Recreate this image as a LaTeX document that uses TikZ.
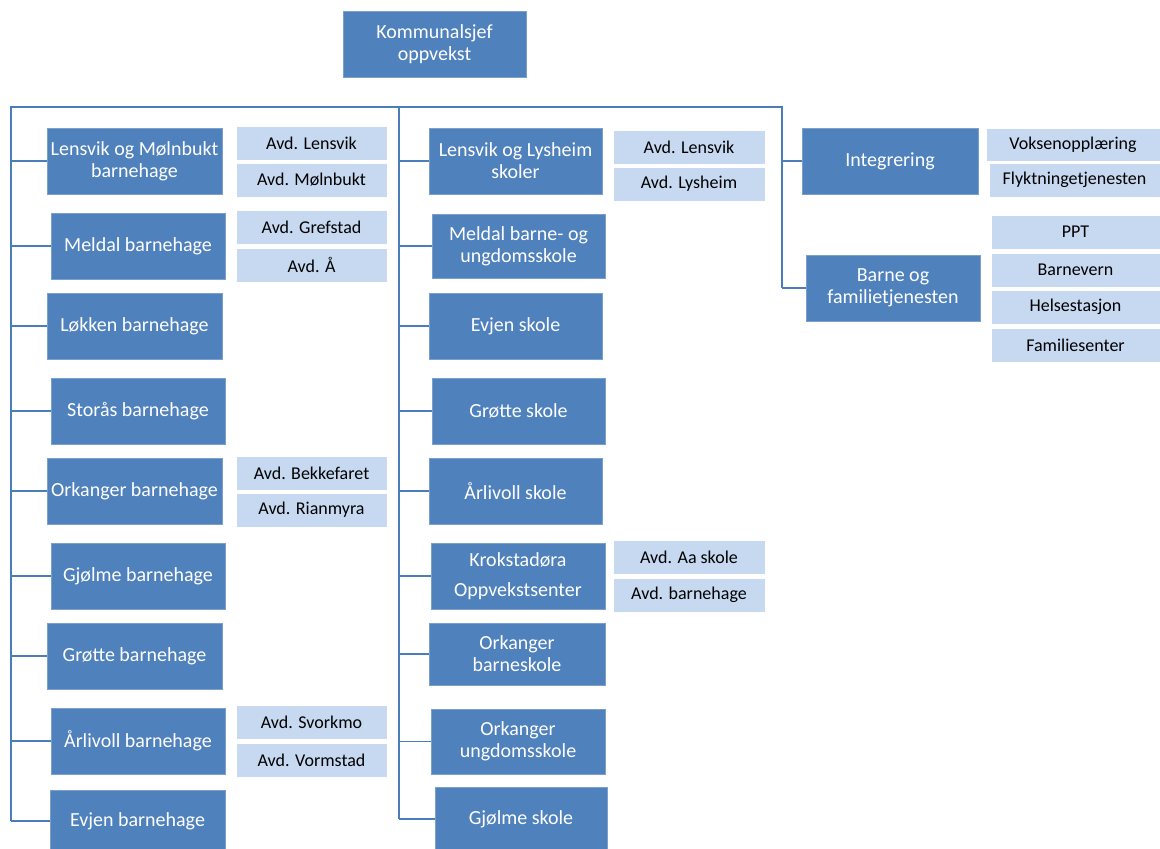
\documentclass[tikz,border=0pt]{standalone}
\usepackage{fontspec}
\setmainfont{Carlito}
\definecolor{dkb}{HTML}{4F81BD}
\definecolor{ltb}{HTML}{C6D9F1}
\definecolor{lnc}{HTML}{4A7EBB}
\newcommand{\dkfont}{\fontsize{20}{22}\selectfont}
\newcommand{\ltfont}{\fontsize{18}{20}\selectfont}
\tikzset{
  dk/.style={fill=dkb, draw=dkb!75!white, line width=0.7pt, text=white, align=center, font=\dkfont, inner sep=1pt},
  lt/.style={fill=ltb, draw=white, line width=0.7pt, text=black, align=center, font=\ltfont, inner sep=1pt},
  ln/.style={draw=lnc, line width=1.1pt}
}
\begin{document}
\begin{tikzpicture}[x=1pt,y=-1pt]
\useasboundingbox (0,0) rectangle (1160,849);
\clip (0,0) rectangle (1160,849);
% top
\node[dk, minimum width=183pt, minimum height=66pt] (top) at (434.5,44) {Kommunalsjef\\oppvekst};
% left column
\node[dk, minimum width=175pt, minimum height=66pt] (lb1) at (134.5,161) {Lensvik og Mølnbukt\\barnehage};
\node[dk, minimum width=174pt, minimum height=66pt] (lb2) at (138,246) {Meldal barnehage};
\node[dk, minimum width=175pt, minimum height=66pt] (lb3) at (134.5,326) {Løkken barnehage};
\node[dk, minimum width=174pt, minimum height=66pt] (lb4) at (138,411) {Storås barnehage};
\node[dk, minimum width=175pt, minimum height=66pt] (lb5) at (134.5,491) {Orkanger barnehage};
\node[dk, minimum width=174pt, minimum height=66pt] (lb6) at (138,576) {Gjølme barnehage};
\node[dk, minimum width=175pt, minimum height=66pt] (lb7) at (134.5,656) {Grøtte barnehage};
\node[dk, minimum width=174pt, minimum height=66pt] (lb8) at (138,741) {Årlivoll barnehage};
\node[dk, minimum width=175pt, minimum height=62pt] (lb9) at (137.5,821) {Evjen barnehage};
% left sub units
\node[lt, minimum width=151pt, minimum height=34pt] (la1) at (311.5,143) {Avd. Lensvik};
\node[lt, minimum width=151pt, minimum height=34pt] (la2) at (311.5,180) {Avd. Mølnbukt};
\node[lt, minimum width=151pt, minimum height=34pt] (la3) at (311.5,227) {Avd. Grefstad};
\node[lt, minimum width=151pt, minimum height=34pt] (la4) at (311.5,265) {Avd. Å};
\node[lt, minimum width=151pt, minimum height=34pt] (la5) at (311.5,473) {Avd. Bekkefaret};
\node[lt, minimum width=151pt, minimum height=34pt] (la6) at (311.5,510) {Avd. Rianmyra};
\node[lt, minimum width=151pt, minimum height=34pt] (la7) at (311.5,722) {Avd. Svorkmo};
\node[lt, minimum width=151pt, minimum height=34pt] (la8) at (311.5,760) {Avd. Vormstad};
% middle column
\node[dk, minimum width=173pt, minimum height=66pt] (mb1) at (515.5,161) {Lensvik og Lysheim\\skoler};
\node[dk, minimum width=173pt, minimum height=64pt] (mb2) at (518.5,246) {Meldal barne- og\\ungdomsskole};
\node[dk, minimum width=173pt, minimum height=66pt] (mb3) at (515.5,326) {Evjen skole};
\node[dk, minimum width=173pt, minimum height=66pt] (mb4) at (518.5,411) {Grøtte skole};
\node[dk, minimum width=173pt, minimum height=66pt] (mb5) at (515.5,491) {Årlivoll skole};
\node[dk, minimum width=174pt, minimum height=66pt] (mb6) at (518,576) {Krokstadøra\\[8pt]Oppvekstsenter};
\node[dk, minimum width=176pt, minimum height=62pt] (mb7) at (517,654) {Orkanger\\barneskole};
\node[dk, minimum width=174pt, minimum height=65pt] (mb8) at (518,741.5) {Orkanger\\ungdomsskole};
\node[dk, minimum width=172pt, minimum height=64pt] (mb9) at (521,819) {Gjølme skole};
% middle sub units
\node[lt, minimum width=152pt, minimum height=34pt] (ma1) at (689,147) {Avd. Lensvik};
\node[lt, minimum width=152pt, minimum height=34pt] (ma2) at (689,184) {Avd. Lysheim};
\node[lt, minimum width=152pt, minimum height=34pt] (ma3) at (689,557) {Avd. Aa skole};
\node[lt, minimum width=152pt, minimum height=34pt] (ma4) at (689,595) {Avd. barnehage};
% right column
\node[dk, minimum width=176pt, minimum height=66pt] (rb1) at (890,161) {Integrering};
\node[dk, minimum width=174pt, minimum height=66pt] (rb2) at (893,288) {Barne og\\familietjenesten};
\node[lt, minimum width=174pt, minimum height=33pt] (ra1) at (1073,144.5) {Voksenopplæring};
\node[lt, minimum width=171pt, minimum height=34pt] (ra2) at (1074.5,180) {Flyktningetjenesten};
\node[lt, minimum width=169pt, minimum height=34pt] (ra3) at (1075.5,232) {PPT};
\node[lt, minimum width=169pt, minimum height=34pt] (ra4) at (1075.5,270) {Barnevern};
\node[lt, minimum width=169pt, minimum height=34pt] (ra5) at (1075.5,307) {Helsestasjon};
\node[lt, minimum width=169pt, minimum height=34pt] (ra6) at (1075.5,345) {Familiesenter};
% connectors
\coordinate (hl) at (10,107);
\coordinate (hr) at (783,107);
\coordinate (vL) at (11,107);
\coordinate (vM) at (399,107);
\coordinate (vR) at (782,107);
\draw[ln] (hl) -- (hr);
\draw[ln] (vL) -- (vL |- lb9.west);
\draw[ln] (vM) -- (vM |- mb9.west);
\draw[ln] (vR) -- (vR |- rb2.west);
\foreach \n in {lb1,lb2,lb3,lb4,lb5,lb6,lb7,lb8,lb9}{\draw[ln] (vL |- \n.west) -- (\n.west);}
\foreach \n in {mb1,mb2,mb3,mb4,mb5,mb6,mb7,mb8,mb9}{\draw[ln] (vM |- \n.west) -- (\n.west);}
\foreach \n in {rb1,rb2}{\draw[ln] (vR |- \n.west) -- (\n.west);}
\end{tikzpicture}
\end{document}
